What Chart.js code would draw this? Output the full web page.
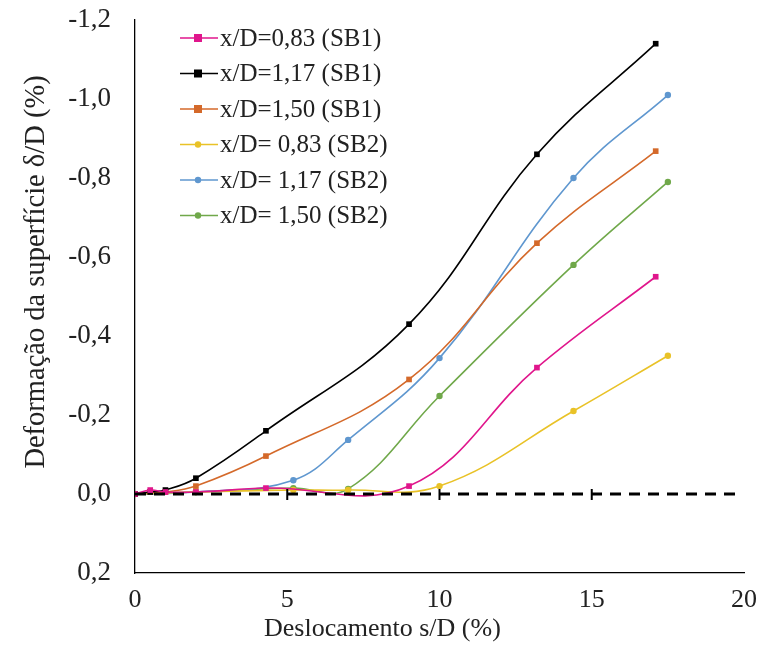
<!DOCTYPE html>
<html>
<head>
<meta charset="utf-8">
<script src="https://cdn.jsdelivr.net/npm/chart.js@4/dist/chart.umd.min.js"></script>
<style>
  html, body { margin: 0; padding: 0; background: #fff; }
  #wrap { width: 761px; height: 654px; }
</style>
</head>
<body>
<div id="wrap"><canvas id="chart"></canvas></div>
<script>
// ---- dados ----
const xSB1 = [0, 0.5, 1.0, 2.0, 4.3, 9.0, 13.2, 17.1];
const xSB2 = [0, 2.0, 5.2, 7.0, 10.0, 14.4, 17.5];

const sb1_083 = [0, -0.01, -0.005, -0.005, -0.015, -0.02, -0.32, -0.55];
const sb1_117 = [0, -0.005, -0.01, -0.04, -0.16, -0.43, -0.86, -1.14];
const sb1_150 = [0, -0.005, -0.005, -0.02, -0.096, -0.29, -0.635, -0.868];

const sb2_083 = [0, -0.005, -0.01, -0.01, -0.02, -0.21, -0.35];
const sb2_117 = [0, -0.005, -0.035, -0.137, -0.344, -0.80, -1.01];
const sb2_150 = [0, -0.005, -0.015, -0.013, -0.248, -0.58, -0.79];

const zeroX = [0, 19.8];
const zeroY = [0, 0];
const zeroTicks = [5, 10, 15];

const labels = [
    'x/D=0,83 (SB1)', 'x/D=1,17 (SB1)', 'x/D=1,50 (SB1)',
    'x/D= 0,83 (SB2)', 'x/D= 1,17 (SB2)', 'x/D= 1,50 (SB2)'
];
const colors = ['#E0168C', '#000000', '#D4692A', '#E9C227', '#5F97CF', '#70A84A'];

const xTitle = 'Deslocamento s/D (%)';
const yTitle = 'Deformação da superfície δ/D (%)';

const toPts = (xs, ys) => xs.map((x, i) => ({ x: x, y: ys[i] }));
const fmt = v => v.toFixed(1).replace('.', ',');
const serif = 'Liberation Serif';

function serie(i, xs, ys, square) {
    return {
        label: labels[i],
        data: toPts(xs, ys),
        borderColor: colors[i],
        backgroundColor: colors[i],
        borderWidth: 1.6,
        pointStyle: square ? 'rect' : 'circle',
        pointRadius: square ? 4 : 3.2,
        pointBorderWidth: 0,
        tension: 0.4,
        order: 1
    };
}

// ---- legenda dentro do gráfico + títulos dos eixos ----
const legendaInterna = {
    id: 'legendaInterna',
    afterDraw(chart) {
        const ctx = chart.ctx;
        ctx.save();
        ctx.font = '25px ' + serif;
        ctx.textBaseline = 'middle';
        for (let i = 0; i < 6; i++) {
            const y = 38 + i * 35.5;
            ctx.strokeStyle = colors[i];
            ctx.fillStyle = colors[i];
            ctx.lineWidth = 1.6;
            ctx.beginPath();
            ctx.moveTo(180, y);
            ctx.lineTo(218, y);
            ctx.stroke();
            if (i < 3) {
                ctx.fillRect(194, y - 4, 8, 8);
            } else {
                ctx.beginPath();
                ctx.arc(198, y, 3.2, 0, Math.PI * 2);
                ctx.fill();
            }
            ctx.fillStyle = '#222';
            ctx.fillText(labels[i], 220, y + 1);
        }

        // títulos
        ctx.fillStyle = '#222';
        ctx.font = '26px ' + serif;
        ctx.textAlign = 'left';
        ctx.fillText(xTitle, 264, 629);

        ctx.translate(37, 272);
        ctx.rotate(-Math.PI / 2);
        ctx.font = '28.5px ' + serif;
        ctx.textAlign = 'center';
        ctx.fillText(yTitle, 0, 0);
        ctx.restore();
    }
};

// ---- marcas na linha do zero ----
const marcasZero = {
    id: 'marcasZero',
    afterDatasetsDraw(chart) {
        const ctx = chart.ctx;
        const xs = chart.scales.x, ys = chart.scales.y;
        const y0 = ys.getPixelForValue(0);
        ctx.save();
        ctx.strokeStyle = '#000';
        ctx.lineWidth = 2;
        zeroTicks.forEach(v => {
            const px = xs.getPixelForValue(v);
            ctx.beginPath();
            ctx.moveTo(px, y0 - 5);
            ctx.lineTo(px, y0 + 6);
            ctx.stroke();
        });
        ctx.restore();
    }
};

new Chart(document.getElementById('chart'), {
    type: 'line',
    data: {
        datasets: [
            {
                label: 'zero',
                data: toPts(zeroX, zeroY),
                borderColor: '#000',
                borderWidth: 3,
                borderDash: [11, 8],
                pointRadius: 0,
                order: 0
            },
            serie(0, xSB1, sb1_083, true),
            serie(1, xSB1, sb1_117, true),
            serie(2, xSB1, sb1_150, true),
            serie(3, xSB2, sb2_083, false),
            serie(4, xSB2, sb2_117, false),
            serie(5, xSB2, sb2_150, false)
        ]
    },
    options: {
        responsive: true,
        maintainAspectRatio: false,
        animation: false,
        layout: { padding: { top: 20, right: 17, left: 0, bottom: 0 } },
        plugins: {
            legend: { display: false },
            tooltip: { enabled: false }
        },
        scales: {
            x: {
                type: 'linear',
                min: 0,
                max: 20,
                ticks: {
                    stepSize: 5,
                    padding: 0,
                    color: '#222',
                    font: { family: serif, size: 26 }
                },
                grid: { display: false, drawTicks: true, tickLength: 12 },
                border: { display: true, color: '#000', width: 1.3 },
                afterFit(scale) { scale.height = 81; }
            },
            y: {
                type: 'linear',
                reverse: true,
                min: -1.2,
                max: 0.2,
                ticks: {
                    stepSize: 0.2,
                    padding: 2,
                    color: '#222',
                    font: { family: serif, size: 27 },
                    callback: v => fmt(v)
                },
                grid: { display: false, drawTicks: true, tickLength: 22 },
                border: { display: true, color: '#000', width: 1.3 },
                afterFit(scale) { scale.width = 135; }
            }
        }
    },
    plugins: [legendaInterna, marcasZero]
});
</script>
</body>
</html>
